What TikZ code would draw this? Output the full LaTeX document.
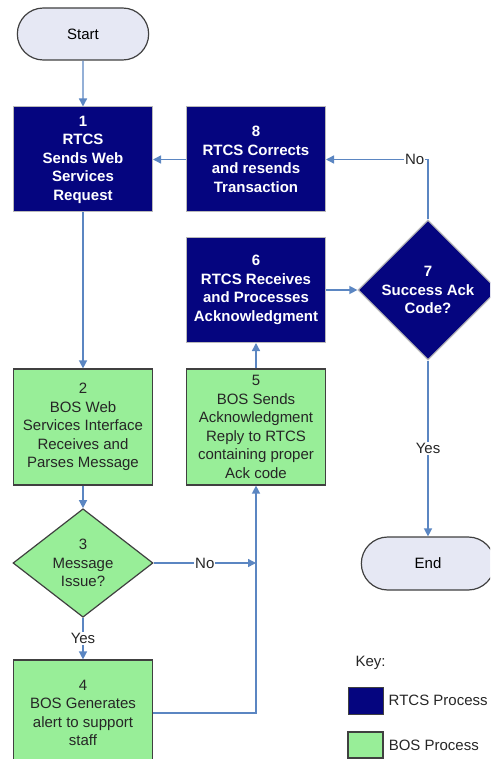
\documentclass[tikz,border=0pt]{standalone}
\usepackage{fontspec}
\setmainfont{Liberation Sans}
\usetikzlibrary{positioning,arrows.meta,shapes.geometric,shapes.misc}
\definecolor{rtcsnavy}{HTML}{05057F}
\definecolor{bosgreen}{HTML}{98EE98}
\definecolor{termfill}{HTML}{E6E8F4}
\definecolor{flowblue}{HTML}{5B86C2}

\begin{document}
\begin{tikzpicture}[x=1pt, y=-1pt,
    font=\fontsize{15}{18.5}\selectfont, >={Triangle[length=8pt, width=8pt]},
    rtcs/.style={draw=gray!55, line width=1pt, fill=rtcsnavy, text=white, font=\fontsize{15}{18.5}\selectfont\bfseries,
      align=center, minimum width=139pt, minimum height=105pt, inner sep=2pt},
    bos/.style={draw=black!75, line width=1.2pt, fill=bosgreen, text=black!85, align=center,
      minimum width=139pt, minimum height=116pt, inner sep=2pt},
    ask/.style={diamond, draw=black!75, line width=1.2pt, align=center, inner sep=0pt,
      minimum width=140pt, minimum height=104pt},
    term/.style={rounded rectangle, draw=black!75, line width=1.2pt, fill=termfill,
      minimum width=138pt, minimum height=52pt},
    flow/.style={draw=flowblue, line width=1.4pt},
    lab/.style={fill=white, inner sep=1pt, text=black!85}]
  \useasboundingbox (0,0) rectangle (490,759);
  \clip (0,0) rectangle (490,759);
  \node[term] (start) at (83,34) {Start};
  \node[rtcs] (req) at (83,159.5) {1\\RTCS\\Sends Web\\Services\\Request};
  \node[rtcs] (fix) at (256,159.5) {8\\RTCS Corrects\\and resends\\Transaction};
  \node[rtcs] (recv) at (256,290) {6\\RTCS Receives\\and Processes\\Acknowledgment};
  \node[ask, fill=rtcsnavy, draw=gray!55, text=white, font=\fontsize{15}{18.5}\selectfont\bfseries,
    minimum width=136pt] (okcode) at (428,290) {7\\Success Ack\\Code?};
  \node[bos] (parse) at (83,427) {2\\BOS Web\\Services Interface\\Receives and\\Parses Message};
  \node[bos] (ack) at (256,427) {5\\BOS Sends\\Acknowledgment\\Reply to RTCS\\containing proper\\Ack code};
  \node[ask, fill=bosgreen, text=black!85] (issue) at (83,563) {3\\Message\\Issue?};
  \node[bos, minimum height=106pt] (alert) at (83,713) {4\\BOS Generates\\alert to support\\staff};
  \node[term, minimum width=140pt, minimum height=53pt] (end) at (428,563.5) {End};
  % connectors
  \draw[flow, ->] (start) -- (req);
  \draw[flow, ->] (req) -- (parse);
  \draw[flow, ->] (fix) -- (req);
  \draw[flow, ->] (okcode.north) -- (okcode.north |- fix.east) -- node[lab, pos=0.13]{No} (fix.east);
  \draw[flow, ->] (recv) -- (okcode);
  \draw[flow, ->] (okcode.south) -- node[lab]{Yes} (end.north);
  \draw[flow, ->] (parse) -- (issue);
  \coordinate (join) at (ack.south |- issue.east);
  \draw[flow, ->] (issue.east) -- node[lab]{No} (join);
  \draw[flow, ->] (issue.south) -- node[lab]{Yes} (alert.north);
  \draw[flow, ->] (alert.east) -- (ack.south |- alert.east) -- (ack.south);
  \draw[flow, ->] (ack) -- (recv);
  % key
  \node[anchor=west, text=black!85] (key) at (352,663) {Key:};
  \node[draw=black!75, line width=1pt, fill=rtcsnavy, minimum width=35pt, minimum height=27pt] (keyrtcs) at (365.5,700.5) {};
  \node[draw=black!75, line width=1.2pt, fill=bosgreen, minimum width=35pt, minimum height=26pt] (keybos) at (365.5,745) {};
  \node[anchor=west, text=black!85, right=4pt of keyrtcs, inner sep=1pt] (keyrtcslab) {RTCS Process};
  \node[anchor=west, text=black!85, right=4pt of keybos, inner sep=1pt] (keyboslab) {BOS Process};
\end{tikzpicture}
\end{document}
